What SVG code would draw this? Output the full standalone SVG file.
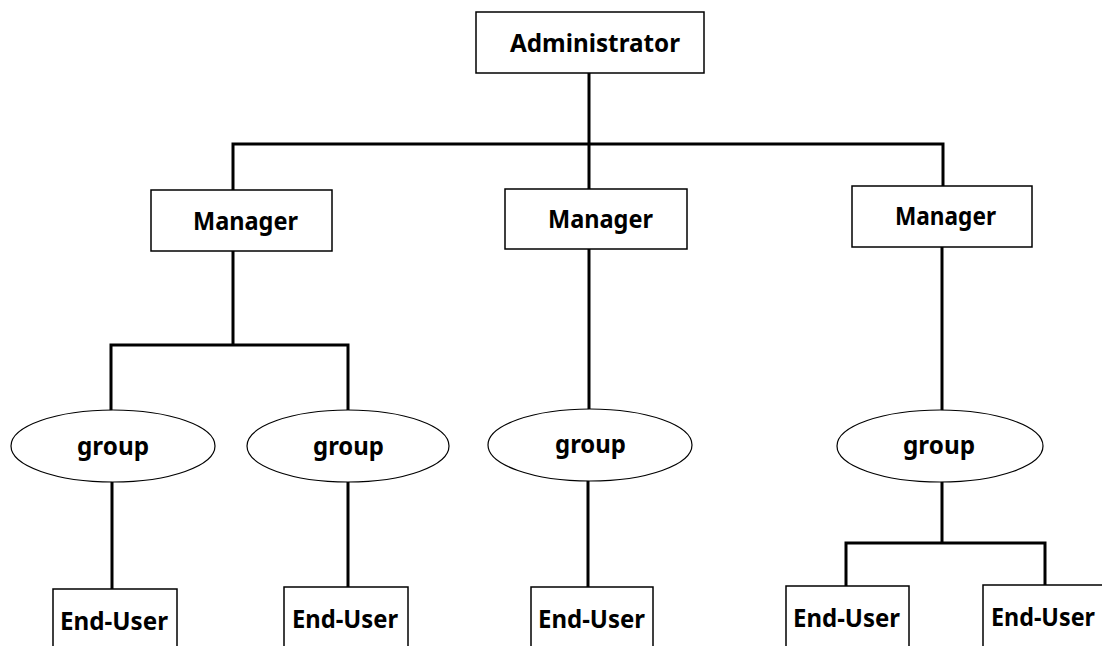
<svg xmlns="http://www.w3.org/2000/svg" width="1102" height="646" viewBox="0 0 1102 646">
<style>
.box{fill:#fff;stroke:#000;stroke-width:1.5}
.ell{fill:#fff;stroke:#000;stroke-width:1.2}
.con{fill:none;stroke:#000;stroke-width:3;stroke-linecap:square}
.t{font-family:"Noto Sans","Open Sans","DejaVu Sans",sans-serif;font-weight:bold;font-size:25px;fill:#000}
</style>
<rect width="1102" height="646" fill="#fff"/>
<g id="connectors">
<path class="con" d="M589 73V189M233 144H943M233 144V190M943 144V186"/>
<path class="con" d="M233 251V345M111 345H348M111 345V410M348 345V410"/>
<path class="con" d="M589 249V409"/>
<path class="con" d="M942 247V410"/>
<path class="con" d="M112 482V589M348 482V587M588 481V587"/>
<path class="con" d="M942 482V543M846 543H1045M846 543V586M1045 543V585"/>
</g>
<g id="admin"><rect class="box" x="476" y="12" width="228" height="61"/><text class="t" x="510" y="52" textLength="170" lengthAdjust="spacingAndGlyphs">Administrator</text></g>
<g id="manager1"><rect class="box" x="151" y="190" width="181" height="61"/><text class="t" x="193" y="230" textLength="105" lengthAdjust="spacingAndGlyphs">Manager</text></g>
<g id="manager2"><rect class="box" x="505" y="189" width="182" height="60"/><text class="t" x="548" y="228" textLength="105" lengthAdjust="spacingAndGlyphs">Manager</text></g>
<g id="manager3"><rect class="box" x="852" y="186" width="180" height="61"/><text class="t" x="895" y="225" textLength="101" lengthAdjust="spacingAndGlyphs">Manager</text></g>
<g id="group1"><ellipse class="ell" cx="113" cy="446" rx="102" ry="36"/><text class="t" x="77" y="455" textLength="72" lengthAdjust="spacingAndGlyphs">group</text></g>
<g id="group2"><ellipse class="ell" cx="348" cy="446" rx="101" ry="36"/><text class="t" x="313" y="455" textLength="71" lengthAdjust="spacingAndGlyphs">group</text></g>
<g id="group3"><ellipse class="ell" cx="590" cy="445" rx="102" ry="36"/><text class="t" x="555" y="453" textLength="71" lengthAdjust="spacingAndGlyphs">group</text></g>
<g id="group4"><ellipse class="ell" cx="940" cy="446" rx="103" ry="36"/><text class="t" x="903" y="454" textLength="72" lengthAdjust="spacingAndGlyphs">group</text></g>
<g id="enduser1"><rect class="box" x="53" y="589" width="124" height="70"/><text class="t" x="60" y="630" textLength="108" lengthAdjust="spacingAndGlyphs">End-User</text></g>
<g id="enduser2"><rect class="box" x="284" y="587" width="124" height="70"/><text class="t" x="292" y="628" textLength="106" lengthAdjust="spacingAndGlyphs">End-User</text></g>
<g id="enduser3"><rect class="box" x="531" y="587" width="122" height="70"/><text class="t" x="538" y="628" textLength="107" lengthAdjust="spacingAndGlyphs">End-User</text></g>
<g id="enduser4"><rect class="box" x="786" y="586" width="123" height="70"/><text class="t" x="793" y="627" textLength="107" lengthAdjust="spacingAndGlyphs">End-User</text></g>
<g id="enduser5"><rect class="box" x="983" y="585" width="125" height="70"/><text class="t" x="991" y="626" textLength="104" lengthAdjust="spacingAndGlyphs">End-User</text></g>
</svg>
